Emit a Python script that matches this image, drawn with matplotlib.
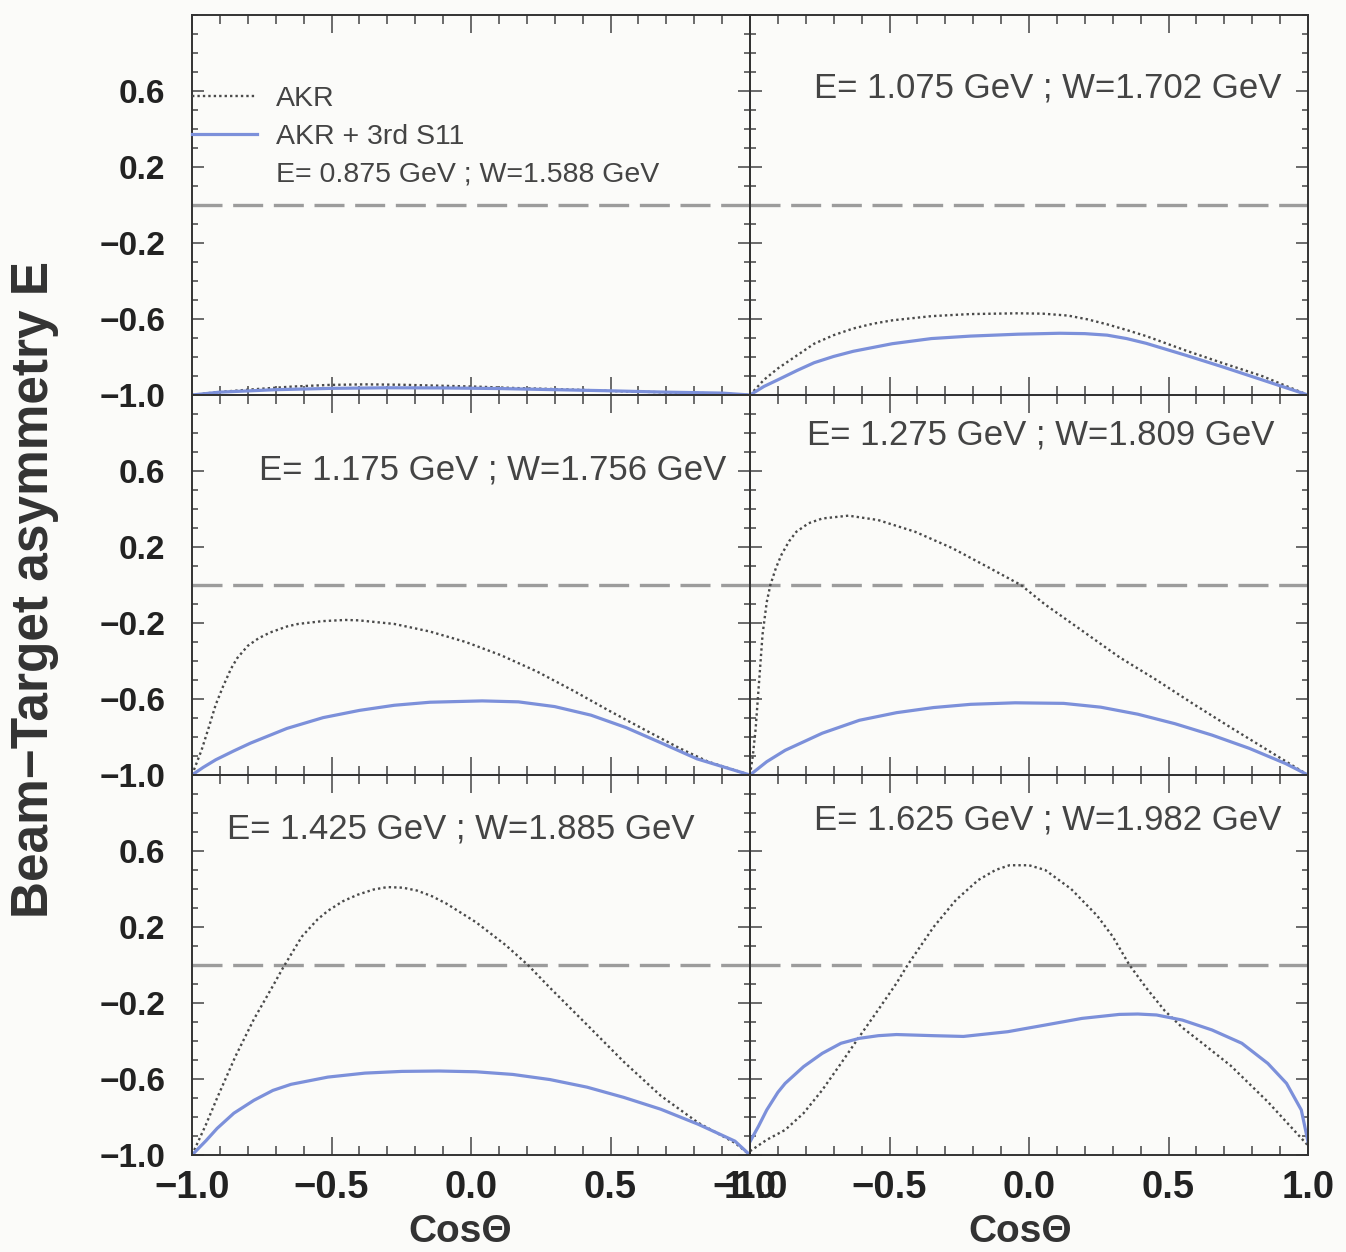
import numpy as np
import matplotlib.pyplot as plt
from matplotlib.ticker import MultipleLocator, FixedLocator
from matplotlib.lines import Line2D

plt.rc('font', family='Liberation Sans')

# E = 0.875 GeV
akr1_x = [-1.0, -0.91, -0.78, -0.645, -0.51, -0.38, -0.25, -0.115, 0.02, 0.15, 0.28, 0.415, 0.5, 0.7, 0.9, 1.0]
akr1_y = [-1.0, -0.985, -0.97, -0.956, -0.947, -0.944, -0.946, -0.951, -0.956, -0.963, -0.968, -0.974, -0.979, -0.986, -0.992, -1.0]
s11_1_x = [-1.0, -0.9, -0.7, -0.5, -0.3, -0.1, 0.1, 0.3, 0.5, 0.7, 0.9, 1.0]
s11_1_y = [-1.0, -0.985, -0.972, -0.965, -0.962, -0.963, -0.966, -0.972, -0.978, -0.985, -0.99, -1.0]

# E = 1.075 GeV
akr2_x = [-1.0, -0.95, -0.9, -0.83, -0.77, -0.7, -0.63, -0.56, -0.49, -0.35, -0.21, -0.04, 0.05, 0.14, 0.21, 0.28, 0.35, 0.42, 0.56, 0.69, 0.835, 1.0]
akr2_y = [-1.0, -0.92, -0.86, -0.79, -0.73, -0.685, -0.65, -0.625, -0.607, -0.585, -0.574, -0.57, -0.572, -0.582, -0.602, -0.628, -0.658, -0.69, -0.765, -0.83, -0.9, -1.0]
s11_2_x = [-1.0, -0.95, -0.9, -0.83, -0.77, -0.7, -0.63, -0.49, -0.35, -0.21, -0.04, 0.11, 0.2, 0.28, 0.35, 0.42, 0.56, 0.69, 0.835, 1.0]
s11_2_y = [-1.0, -0.955, -0.92, -0.87, -0.83, -0.797, -0.77, -0.73, -0.703, -0.69, -0.68, -0.675, -0.677, -0.685, -0.703, -0.728, -0.79, -0.85, -0.92, -1.0]

# E = 1.175 GeV
akr3_x = [-1.0, -0.966, -0.94, -0.915, -0.889, -0.86, -0.838, -0.80, -0.761, -0.72, -0.659, -0.62, -0.531, -0.45, -0.403, -0.275, -0.147, -0.019, 0.108, 0.236, 0.365, 0.493, 0.62, 0.749, 0.85, 1.0]
akr3_y = [-1.0, -0.87, -0.75, -0.63, -0.535, -0.44, -0.385, -0.32, -0.28, -0.25, -0.218, -0.205, -0.19, -0.184, -0.186, -0.205, -0.245, -0.30, -0.37, -0.455, -0.555, -0.66, -0.76, -0.86, -0.93, -1.0]
s11_3_x = [-1.0, -0.96, -0.915, -0.85, -0.79, -0.66, -0.53, -0.40, -0.275, -0.147, 0.04, 0.17, 0.30, 0.43, 0.555, 0.68, 0.81, 1.0]
s11_3_y = [-1.0, -0.96, -0.92, -0.873, -0.832, -0.755, -0.698, -0.66, -0.633, -0.617, -0.61, -0.615, -0.64, -0.685, -0.75, -0.83, -0.915, -1.0]

# E = 1.275 GeV
akr4_x = [-1.0, -0.99, -0.98, -0.967, -0.955, -0.94, -0.927, -0.907, -0.887, -0.86, -0.834, -0.79, -0.741, -0.647, -0.541, -0.408, -0.275, -0.142, -0.029, 0.058, 0.19, 0.324, 0.457, 0.59, 0.723, 0.856, 1.0]
akr4_y = [-1.0, -0.9, -0.76, -0.5, -0.26, -0.09, 0.0, 0.09, 0.16, 0.23, 0.28, 0.325, 0.35, 0.365, 0.342, 0.28, 0.194, 0.09, 0.0, -0.103, -0.24, -0.38, -0.50, -0.627, -0.75, -0.87, -1.0]
s11_4_x = [-1.0, -0.94, -0.874, -0.8, -0.741, -0.608, -0.475, -0.342, -0.209, -0.05, 0.124, 0.257, 0.39, 0.523, 0.656, 0.79, 0.92, 1.0]
s11_4_y = [-1.0, -0.93, -0.87, -0.82, -0.78, -0.712, -0.672, -0.645, -0.628, -0.62, -0.623, -0.643, -0.68, -0.73, -0.79, -0.86, -0.94, -1.0]

# E = 1.425 GeV
akr5_x = [-1.0, -0.95, -0.91, -0.844, -0.778, -0.71, -0.672, -0.606, -0.55, -0.513, -0.46, -0.406, -0.35, -0.30, -0.245, -0.194, -0.14, -0.088, 0.018, 0.124, 0.204, 0.283, 0.416, 0.548, 0.68, 0.814, 0.946, 1.0]
akr5_y = [-1.0, -0.84, -0.7, -0.48, -0.285, -0.11, -0.01, 0.15, 0.24, 0.285, 0.335, 0.37, 0.397, 0.41, 0.407, 0.392, 0.362, 0.323, 0.225, 0.105, 0.0, -0.12, -0.315, -0.51, -0.688, -0.83, -0.936, -1.0]
s11_5_x = [-1.0, -0.95, -0.91, -0.85, -0.778, -0.71, -0.645, -0.513, -0.38, -0.248, -0.115, 0.018, 0.15, 0.283, 0.416, 0.548, 0.68, 0.814, 0.946, 1.0]
s11_5_y = [-1.0, -0.925, -0.86, -0.78, -0.712, -0.66, -0.628, -0.59, -0.569, -0.56, -0.558, -0.562, -0.576, -0.603, -0.643, -0.697, -0.759, -0.838, -0.927, -1.0]

# E = 1.625 GeV
akr6_x = [-1.0, -0.94, -0.874, -0.808, -0.741, -0.674, -0.608, -0.541, -0.475, -0.435, -0.342, -0.262, -0.182, -0.12, -0.07, 0.0, 0.058, 0.151, 0.244, 0.30, 0.36, 0.42, 0.486, 0.55, 0.62, 0.723, 0.856, 1.0]
akr6_y = [-0.98, -0.92, -0.868, -0.78, -0.658, -0.518, -0.377, -0.237, -0.096, 0.0, 0.2, 0.342, 0.447, 0.5, 0.525, 0.525, 0.5, 0.4, 0.26, 0.15, 0.0, -0.12, -0.24, -0.33, -0.41, -0.53, -0.72, -0.95]
s11_6_x = [-1.0, -0.97, -0.94, -0.9, -0.874, -0.808, -0.741, -0.674, -0.608, -0.54, -0.475, -0.342, -0.235, -0.076, 0.058, 0.19, 0.324, 0.39, 0.457, 0.55, 0.656, 0.763, 0.856, 0.923, 0.976, 1.0]
s11_6_y = [-0.93, -0.85, -0.763, -0.67, -0.623, -0.535, -0.465, -0.412, -0.386, -0.372, -0.366, -0.372, -0.376, -0.351, -0.316, -0.281, -0.26, -0.258, -0.263, -0.29, -0.342, -0.412, -0.518, -0.623, -0.763, -0.93]

labels = ['E= 0.875 GeV ; W=1.588 GeV', 'E= 1.075 GeV ; W=1.702 GeV',
          'E= 1.175 GeV ; W=1.756 GeV', 'E= 1.275 GeV ; W=1.809 GeV',
          'E= 1.425 GeV ; W=1.885 GeV', 'E= 1.625 GeV ; W=1.982 GeV']
yticks = [-1.0, -0.6, -0.2, 0.2, 0.6]
xticks = [-1.0, -0.5, 0.0, 0.5, 1.0]

panels = [(akr1_x, akr1_y, s11_1_x, s11_1_y), (akr2_x, akr2_y, s11_2_x, s11_2_y),
          (akr3_x, akr3_y, s11_3_x, s11_3_y), (akr4_x, akr4_y, s11_4_x, s11_4_y),
          (akr5_x, akr5_y, s11_5_x, s11_5_y), (akr6_x, akr6_y, s11_6_x, s11_6_y)]
# where the energy caption sits in each box (axes fraction)
label_pos = [None, (0.534, 0.808), (0.5385, 0.803), (0.5215, 0.895), (0.481, 0.858), (0.534, 0.882)]

bg = '#fbfbf9'
blue = '#7c90da'
dotc = '#4a4a4a'
dots = (0, (1, 1.3))

fig = plt.figure(figsize=(13.46, 12.52), dpi=100)
fig.patch.set_facecolor(bg)

W, H = 1346.0, 1252.0
lefts = [192 / W, 750 / W]
bottoms = [857 / H, 477 / H, 97 / H]
aw, ah = 558 / W, 380 / H

for i, (ax_, ay_, sx_, sy_) in enumerate(panels):
    r, c = divmod(i, 2)
    ax = fig.add_axes([lefts[c], bottoms[r], aw, ah])
    ax.set_facecolor('none')
    ax.axhline(0, color='#9c9c9c', lw=2.4, dashes=(9, 3.2))
    ax.plot(ax_, ay_, color=dotc, lw=1.7, linestyle=dots)
    ax.plot(sx_, sy_, color=blue, lw=2.3)
    ax.set_xlim(-1, 1)
    ax.set_ylim(-1, 1)

    ax.xaxis.set_major_locator(FixedLocator(xticks))
    ax.xaxis.set_minor_locator(MultipleLocator(0.1))
    ax.yaxis.set_major_locator(FixedLocator(yticks))
    ax.yaxis.set_minor_locator(MultipleLocator(0.1))
    ax.tick_params(which='both', direction='in', top=True, right=True,
                   color='#444444', width=1.1)
    ax.tick_params(axis='x', which='major', length=13, pad=11)
    ax.tick_params(axis='x', which='minor', length=6.5)
    ax.tick_params(axis='y', which='major', length=8.5, pad=19)
    ax.tick_params(axis='y', which='minor', length=4.3)
    ax.tick_params(axis='y', labelsize=24, labelcolor='#222222')
    ax.tick_params(axis='x', labelsize=27.5, labelcolor='#222222')
    for lab in ax.get_xticklabels() + ax.get_yticklabels():
        lab.set_fontweight('bold')
    for sp in ax.spines.values():
        sp.set_linewidth(1.4)
        sp.set_color('#333333')
    if c == 1:
        ax.tick_params(labelleft=False)
    if r < 2:
        ax.tick_params(labelbottom=False)

    if label_pos[i] is not None:
        ax.text(label_pos[i][0], label_pos[i][1], labels[i], transform=ax.transAxes,
                fontsize=25, color='#444444', ha='center', va='center')
    else:
        handles = [Line2D([], [], color=dotc, lw=1.7, linestyle=dots),
                   Line2D([], [], color=blue, lw=2.3),
                   Line2D([], [], linestyle='none')]
        ax.legend(handles, ['AKR', 'AKR + 3rd S11', labels[i]], loc='upper left',
                  bbox_to_anchor=(0.0, 0.813), frameon=False, fontsize=20.5,
                  handlelength=2.3, handletextpad=0.65, labelspacing=0.42,
                  borderpad=0, borderaxespad=0, labelcolor='#444444')

fig.text(0.026, 0.529, 'Beam\u2212Target asymmetry E', rotation=90, fontsize=37,
         fontweight='bold', ha='center', va='center', color='#333333')
fig.text(460 / W, 0.016, 'Cos\u0398', fontsize=28, fontweight='bold',
         ha='center', va='center', color='#333333')
fig.text(1020 / W, 0.016, 'Cos\u0398', fontsize=28, fontweight='bold',
         ha='center', va='center', color='#333333')

fig.savefig('out.png', dpi=100, facecolor=bg)
